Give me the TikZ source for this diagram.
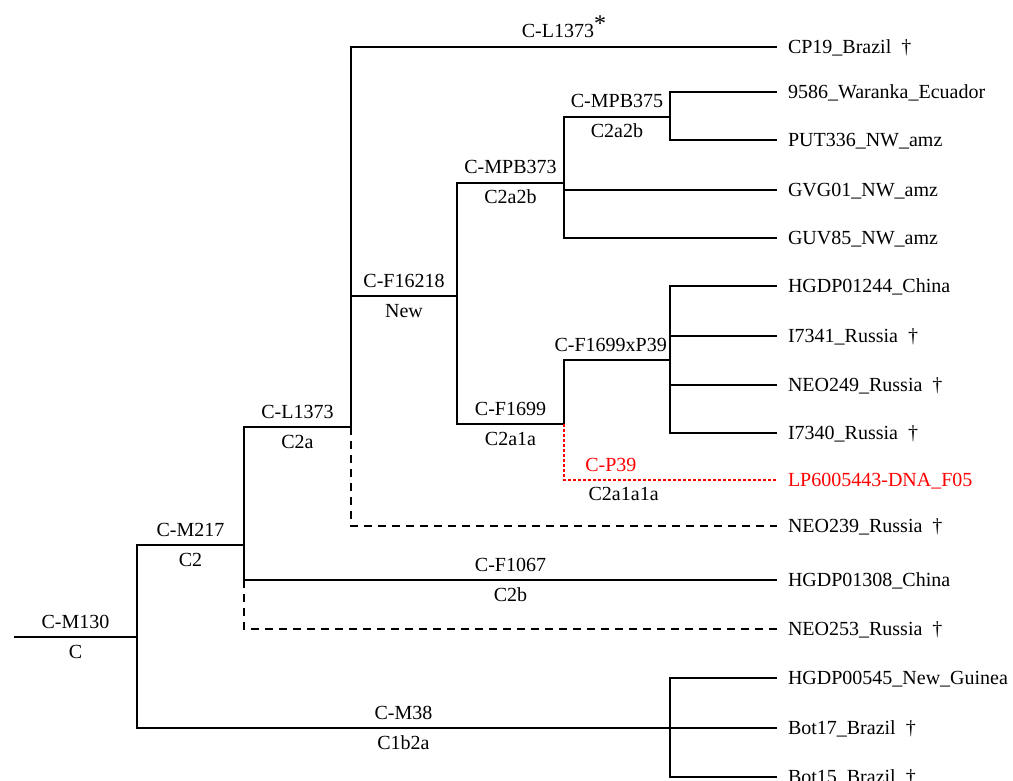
\documentclass[tikz,border=0pt]{standalone}
\usepackage{fontspec}
\setmainfont{Liberation Serif}
\usepackage{tikz}
\usetikzlibrary{calc}

\begin{document}
\begin{tikzpicture}[x=0.5pt, y=-0.5pt, line width=1pt,
  every node/.style={font=\fontsize{10}{12}\selectfont, text height=6.5pt, text depth=0pt},
  tip/.style={anchor=west, inner xsep=5pt, inner ysep=0pt},
  mut/.style={above, inner sep=4pt},
  hgrp/.style={below, inner sep=3.5pt},
  lost/.style={dash pattern=on 4pt off 3pt},
  newseq/.style={red, line width=0.8pt, dash pattern=on 1.5pt off 1pt}]
\useasboundingbox (0,0) rectangle (1013,781);
% samples
\node[tip] (cp19) at (777,47) {CP19\_Brazil\hspace{.5em}\dag};
\node[tip] (w9586) at (777,92) {9586\_Waranka\_Ecuador};
\node[tip] (put336) at (777,140) {PUT336\_NW\_amz};
\node[tip] (gvg01) at (777,190) {GVG01\_NW\_amz};
\node[tip] (guv85) at (777,238) {GUV85\_NW\_amz};
\node[tip] (hgdp01244) at (777,286) {HGDP01244\_China};
\node[tip] (i7341) at (777,336) {I7341\_Russia\hspace{.5em}\dag};
\node[tip] (neo249) at (777,385) {NEO249\_Russia\hspace{.5em}\dag};
\node[tip] (i7340) at (777,433) {I7340\_Russia\hspace{.5em}\dag};
\node[tip, text=red] (lp600) at (777,480) {LP6005443-DNA\_F05};
\node[tip] (neo239) at (777,526) {NEO239\_Russia\hspace{.5em}\dag};
\node[tip] (hgdp01308) at (777,580) {HGDP01308\_China};
\node[tip] (neo253) at (777,629) {NEO253\_Russia\hspace{.5em}\dag};
\node[tip] (hgdp00545) at (777,678) {HGDP00545\_New\_Guinea};
\node[tip] (bot17) at (777,728) {Bot17\_Brazil\hspace{.5em}\dag};
\node[tip] (bot15) at (777,777) {Bot15\_Brazil\hspace{.5em}\dag};
% branch points
\coordinate (root) at (14,637);
\coordinate (c) at (137,637);
\coordinate (c2) at (244,545);
\coordinate (c1b2a) at (670,728);
\coordinate (c2a) at (351,427);
\coordinate (nw) at (457,296);
\coordinate (c2a2b) at (564,183);
\coordinate (c2a2bx) at (670,117);
\coordinate (c2a1a) at (564,424);
\coordinate (fxp) at (670,360);
% tree
\draw (root) -- node[mut] (lm130) {C-M130} node[hgrp] (lc) {C} (c);
\draw (c) |- node[mut,pos=.75] (lm217) {C-M217} node[hgrp,pos=.75] (lc2) {C2} (c2);
\draw (c) |- node[mut,pos=.75] (lm38) {C-M38} node[hgrp,pos=.75] (lc1b2a) {C1b2a} (c1b2a);
\draw (c1b2a) |- (hgdp00545.west) (c1b2a) -- (bot17.west) (c1b2a) |- (bot15.west);
\draw (c2) |- node[mut,pos=.75] (ll1373) {C-L1373} node[hgrp,pos=.75] (lc2a) {C2a} (c2a);
\draw (c2) |- node[mut,pos=.75] (lf1067) {C-F1067} node[hgrp,pos=.75] (lc2b) {C2b} (hgdp01308.west);
\draw[lost] (c2 |- hgdp01308.west) |- (neo253.west);
\draw (c2a) |- node[mut,pos=.75] (ll1373s) {C-L1373\raisebox{.3em}{\fontsize{12}{12}\selectfont *}} (cp19.west);
\draw (c2a) |- node[mut,pos=.75] (lf16218) {C-F16218} node[hgrp,pos=.75] (lnew) {New} (nw);
\draw[lost] (c2a) |- (neo239.west);
\draw (nw) |- node[mut,pos=.75] (lmpb373) {C-MPB373} node[hgrp,pos=.75] (lc2a2b) {C2a2b} (c2a2b);
\draw (nw) |- node[mut,pos=.75] (lf1699) {C-F1699} node[hgrp,pos=.75] (lc2a1a) {C2a1a} (c2a1a);
\draw (c2a2b) |- node[mut,pos=.75] (lmpb375) {C-MPB375} node[hgrp,pos=.75] (lc2a2bx) {C2a2b} (c2a2bx);
\draw (c2a2b) |- (gvg01.west) (c2a2b) |- (guv85.west);
\draw (c2a2bx) |- (w9586.west) (c2a2bx) |- (put336.west);
\draw (c2a1a) |- node[mut,pos=.72] (lfxp) {C-F1699xP39} (fxp);
\draw (fxp) |- (hgdp01244.west) (fxp) |- (i7341.west) (fxp) |- (neo249.west) (fxp) |- (i7340.west);
\draw[newseq] (c2a1a) |- node[mut,pos=.61] (lp39) {C-P39} node[hgrp,pos=.64,text=black] (lc2a1a1a) {C2a1a1a} (lp600.west);
\end{tikzpicture}
\end{document}
